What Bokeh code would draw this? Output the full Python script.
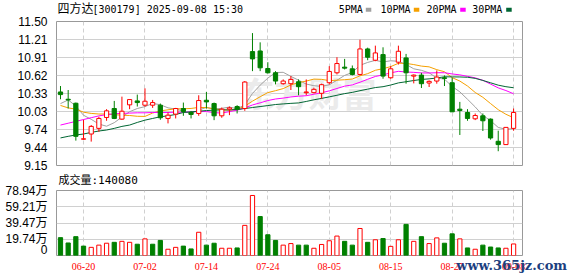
from bokeh.plotting import figure
from bokeh.layouts import column
from bokeh.models import Range1d, FixedTicker, Label, ColumnDataSource
from bokeh.embed import file_html
from bokeh.resources import INLINE
import numpy as np

# ---------------- data ----------------
dates = ["06-17", "06-18", "06-19", "06-20", "06-23", "06-24", "06-25", "06-26", "06-27", "06-30",
         "07-01", "07-02", "07-03", "07-04", "07-07", "07-08", "07-09", "07-10", "07-11", "07-14",
         "07-15", "07-16", "07-17", "07-18", "07-21", "07-22", "07-23", "07-24", "07-25", "07-28",
         "07-29", "07-30", "07-31", "08-01", "08-04", "08-05", "08-06", "08-07", "08-08", "08-11",
         "08-12", "08-13", "08-14", "08-15", "08-18", "08-19", "08-20", "08-21", "08-22", "08-25",
         "08-26", "08-27", "08-28", "08-29", "09-01", "09-02", "09-03", "09-04", "09-05", "09-08"]
label_idx = [3, 11, 19, 27, 35, 43, 51, 59]

opens = [10.35, 10.231, 10.166, 9.58, 9.664, 9.756, 9.934, 10.08, 9.907, 10.14,
         10.204, 10.134, 10.134, 10.134, 9.918, 9.988, 10.08, 10.015, 9.999, 10.215,
         10.161, 9.961, 10.069, 10.112, 10.08, 11.009, 11.019, 10.733, 10.663, 10.485,
         10.485, 10.517, 10.339, 10.339, 10.328, 10.501, 10.663, 10.755, 10.728, 10.636,
         11.052, 10.868, 10.96, 10.582, 10.836, 10.906, 10.609, 10.625, 10.496, 10.528,
         10.582, 10.501, 10.069, 10.015, 9.912, 9.961, 9.907, 9.545, 9.491, 9.756]
closes = [10.307, 10.22, 9.626, 9.585, 9.788, 9.918, 10.042, 9.918, 10.036, 10.226,
          10.177, 10.199, 10.177, 9.929, 9.972, 10.08, 10.031, 9.983, 10.21, 10.188,
          9.961, 10.069, 10.09, 10.069, 10.512, 10.89, 10.744, 10.663, 10.528, 10.528,
          10.555, 10.436, 10.35, 10.393, 10.469, 10.685, 10.814, 10.739, 10.636, 11.052,
          10.917, 10.987, 10.609, 10.728, 11.014, 10.663, 10.625, 10.485, 10.523, 10.593,
          10.571, 10.026, 10.047, 9.918, 9.966, 9.88, 9.599, 9.491, 9.772, 10.015]
highs = [10.447, 10.382, 10.177, 9.896, 9.81, 9.945, 10.069, 10.204, 10.274, 10.226,
         10.307, 10.409, 10.22, 10.161, 10.015, 10.09, 10.177, 10.04, 10.296, 10.35,
         10.177, 10.096, 10.112, 10.134, 10.528, 11.311, 11.16, 10.836, 10.69, 10.555,
         10.609, 10.555, 10.555, 10.42, 10.485, 10.771, 10.917, 10.89, 10.782, 11.203,
         11.073, 11.106, 11.079, 10.771, 11.106, 10.971, 10.636, 10.663, 10.539, 10.701,
         10.62, 10.582, 10.188, 10.069, 9.999, 9.999, 9.918, 9.718, 9.772, 10.08]
lows = [10.231, 10.08, 9.556, 9.57, 9.54, 9.70, 9.88, 9.907, 9.896, 10.069,
        10.112, 10.112, 10.09, 9.896, 9.837, 9.918, 9.961, 9.918, 9.961, 10.08,
        9.89, 9.929, 9.972, 9.999, 10.042, 10.69, 10.69, 10.652, 10.474, 10.469,
        10.382, 10.296, 10.296, 10.328, 10.24, 10.474, 10.636, 10.717, 10.62, 10.62,
        10.868, 10.852, 10.566, 10.566, 10.798, 10.485, 10.49, 10.415, 10.431, 10.485,
        10.447, 10.026, 9.648, 9.88, 9.891, 9.713, 9.572, 9.383, 9.491, 9.718]

ma5 = [10.16, 10.22, 10.12, 9.97, 9.904, 9.826, 9.791, 9.849, 9.94, 10.028,
       10.08, 10.111, 10.163, 10.142, 10.091, 10.071, 10.038, 9.999, 10.055, 10.098,
       10.075, 10.082, 10.104, 10.075, 10.14, 10.326, 10.461, 10.576, 10.667, 10.671,
       10.604, 10.542, 10.479, 10.452, 10.441, 10.467, 10.542, 10.62, 10.669, 10.785,
       10.832, 10.866, 10.84, 10.859, 10.851, 10.8, 10.728, 10.703, 10.662, 10.578,
       10.559, 10.44, 10.352, 10.231, 10.106, 9.967, 9.882, 9.771, 9.742, 9.751]
ma10 = [10.13, 10.09, 10.07, 10.02, 10.0, 9.99, 9.99, 9.98, 9.97, 9.966,
        9.953, 9.951, 10.006, 10.041, 10.059, 10.076, 10.075, 10.081, 10.098, 10.095,
        10.073, 10.06, 10.051, 10.065, 10.119, 10.2, 10.272, 10.34, 10.371, 10.405,
        10.465, 10.502, 10.528, 10.56, 10.556, 10.535, 10.542, 10.55, 10.561, 10.613,
        10.649, 10.704, 10.73, 10.764, 10.818, 10.816, 10.797, 10.772, 10.76, 10.714,
        10.68, 10.584, 10.528, 10.447, 10.342, 10.263, 10.161, 10.061, 9.986, 9.929]
ma20 = [9.81, 9.84, 9.87, 9.90, 9.93, 9.96, 9.98, 9.995, 10.0, 10.005,
        10.01, 10.01, 10.015, 10.015, 10.015, 10.02, 10.02, 10.025, 10.03, 10.03,
        10.013, 10.006, 10.029, 10.053, 10.089, 10.138, 10.173, 10.21, 10.235, 10.25,
        10.269, 10.281, 10.289, 10.313, 10.337, 10.368, 10.407, 10.445, 10.466, 10.509,
        10.557, 10.603, 10.629, 10.662, 10.687, 10.676, 10.67, 10.661, 10.66, 10.664,
        10.664, 10.644, 10.629, 10.605, 10.58, 10.54, 10.479, 10.417, 10.373, 10.321]
ma30 = [9.6, 9.626, 9.648, 9.664, 9.69, 9.713, 9.729, 9.756, 9.788, 9.81,
        9.853, 9.89, 9.918, 9.945, 9.961, 9.983, 10.015, 10.026, 10.036, 10.047,
        10.053, 10.058, 10.058, 10.064, 10.08, 10.096, 10.112, 10.128, 10.145, 10.155,
        10.164, 10.171, 10.195, 10.222, 10.245, 10.27, 10.296, 10.323, 10.343, 10.371,
        10.396, 10.422, 10.436, 10.463, 10.498, 10.517, 10.537, 10.554, 10.564, 10.578,
        10.598, 10.596, 10.595, 10.59, 10.572, 10.538, 10.5, 10.461, 10.436, 10.419]

volumes = [217000, 152000, 229000, 114000, 99000, 126000, 149000, 160000, 172000, 160000,
           137000, 202000, 137000, 183000, 76000, 99000, 114000, 80000, 282000, 126000,
           149000, 88000, 88000, 92000, 366000, 729000, 473000, 252000, 183000, 126000,
           145000, 126000, 126000, 88000, 134000, 179000, 236000, 172000, 126000, 328000,
           160000, 191000, 206000, 111000, 191000, 378000, 172000, 229000, 145000, 214000,
           149000, 263000, 202000, 92000, 76000, 126000, 103000, 92000, 88000, 140080]
vol_up = [0, 0, 0, 0, 1, 1, 1, 0, 1, 1, 0, 1, 0, 0, 1, 1, 0, 0, 1, 0,
          0, 1, 1, 0, 1, 1, 0, 0, 0, 1, 1, 0, 0, 1, 1, 1, 1, 0, 0, 1,
          0, 1, 0, 1, 1, 0, 1, 0, 1, 1, 0, 0, 1, 0, 1, 0, 0, 0, 1, 1]

price_min, price_max = 9.15, 11.50
price_tick_labels = ["9.15", "9.44", "9.74", "10.03", "10.33", "10.62", "10.91", "11.21", "11.50"]
vol_max = 789400
vol_tick_labels = ["0", "19.74万", "39.47万", "59.21万", "78.94万"]

title_name = "四方达"
title_rest = "[300179] 2025-09-08 15:30"
vol_title = "成交量:140080"
legend_names = ["5PMA", "10PMA", "20PMA", "30PMA"]
watermark_site = "www.365jz.com"
watermark_logo = "东方财富"

# ---------------- styles ----------------
W = 578
RED = "#ff0000"
GREEN = "#008000"
MA_COLORS = ["#a0a0a0", "#f5a000", "#ff00ff", "#006633"]
GRID = "#d0d0d0"
FRAME = "#999999"
AX_FONT = "Liberation Sans, Noto Sans CJK SC"
MONO = "DejaVu Sans Mono"
CJK = "Noto Sans CJK SC"
MIX = "DejaVu Sans Mono, Noto Sans CJK SC"

n = len(closes)
xs = list(range(n))
up = [1 if c >= o else 0 for o, c in zip(opens, closes)]

x0, x1 = -0.52, 60.16
frame_left, frame_right = 56, 522
x_range = Range1d(x0, x1)
px_per = (frame_right - frame_left) / (x1 - x0)


def band(height, xr):
    b = figure(width=W, height=height, x_range=xr, y_range=Range1d(0, height),
               x_axis_type=None, y_axis_type=None, min_border=0,
               toolbar_location=None, output_backend="svg")
    b.outline_line_color = None
    b.frame_align = False
    return b


def style(p):
    for ax in p.yaxis:
        ax.axis_line_color = None
        ax.major_tick_line_color = None
        ax.minor_tick_line_color = None
        ax.major_label_standoff = 3
        ax.major_label_text_font = AX_FONT
        ax.major_label_text_font_size = "12px"
        ax.major_label_text_color = "#000000"
    p.ygrid.grid_line_color = GRID
    p.ygrid.grid_line_width = 1
    p.xgrid.grid_line_color = GRID
    p.xgrid.grid_line_dash = "4 3"
    p.xgrid.grid_line_width = 1
    p.outline_line_color = FRAME
    p.outline_line_width = 1


# ---------------- header band (title + legend) ----------------
H_HDR = 15
hdr = band(H_HDR, Range1d(0, W))
hdr.add_layout(Label(x=57, y=6.5, text=title_name, text_font=MIX, text_font_size="12px",
                     text_color="#000000", text_baseline="middle"))
hdr.add_layout(Label(x=92, y=6.5, text=title_rest, text_font=MONO, text_font_size="10px",
                     text_color="#000000", text_baseline="middle"))
legend_x = [338.3, 380.0, 426.0, 471.7]
box_x = [365.3, 413.3, 459.7, 505.7]
for name, lx in zip(legend_names, legend_x):
    hdr.add_layout(Label(x=lx, y=6.5, text=name, text_font=MONO, text_font_size="10px",
                         text_color="#000000", text_baseline="middle"))
hdr.quad(left=box_x, right=[b + 5.5 for b in box_x], bottom=3.7, top=7.7,
         fill_color=MA_COLORS, line_color=None)

# ---------------- price panel ----------------
p1 = figure(width=W, height=157, x_range=x_range, y_range=Range1d(price_min, price_max),
            min_border_left=frame_left, min_border_right=W - frame_right,
            min_border_top=6, min_border_bottom=7,
            toolbar_location=None, output_backend="svg")
p1.xaxis.visible = False
price_ticks = [float(t) for t in np.linspace(price_min, price_max, len(price_tick_labels))]
p1.yaxis.ticker = FixedTicker(ticks=price_ticks)
p1.yaxis.major_label_overrides = {t: l for t, l in zip(price_ticks, price_tick_labels)}
p1.ygrid.ticker = FixedTicker(ticks=price_ticks)
p1.xgrid.ticker = FixedTicker(ticks=label_idx)
style(p1)

wm = Label(x=184, y=73, x_units="screen", y_units="screen", text=watermark_logo,
           text_font=CJK, text_font_size="34px", text_font_style="bold",
           text_color="#ebebeb", text_baseline="middle")
wm.level = "underlay"
p1.add_layout(wm)

for vals, col in zip([ma5, ma10, ma20, ma30], MA_COLORS):
    p1.line(xs, vals, line_color=col, line_width=1)


def subset(flag):
    idx = [i for i in xs if up[i] == flag]
    return ColumnDataSource(dict(x=idx, o=[opens[i] for i in idx], c=[closes[i] for i in idx],
                                 h=[highs[i] for i in idx], l=[lows[i] for i in idx]))


src_up, src_dn = subset(1), subset(0)
p1.segment(x0="x", y0="h", x1="x", y1="l", source=src_up, line_color=RED, line_width=1)
p1.vbar(x="x", bottom="o", top="c", width=0.55, source=src_up,
        fill_color="white", line_color=RED, line_width=1)
p1.segment(x0="x", y0="h", x1="x", y1="l", source=src_dn, line_color=GREEN, line_width=1)
p1.vbar(x="x", bottom="c", top="o", width=0.55, source=src_dn,
        fill_color=GREEN, line_color=GREEN, line_width=1)

# ---------------- volume panel ----------------
p2 = figure(width=W, height=84, x_range=x_range, y_range=Range1d(0, vol_max),
            min_border_left=frame_left, min_border_right=W - frame_right,
            min_border_top=14, min_border_bottom=1,
            toolbar_location=None, output_backend="svg")
p2.title.text = vol_title
p2.title.align = "left"
p2.title.vertical_align = "top"
p2.title.offset = 2
p2.title.standoff = 3
p2.title.text_font = MIX
p2.title.text_font_size = "11px"
p2.title.text_font_style = "normal"
p2.title.text_color = "#000000"
p2.xaxis.visible = False
vol_ticks = [float(t) for t in np.linspace(0, vol_max, len(vol_tick_labels))]
p2.yaxis.ticker = FixedTicker(ticks=vol_ticks)
p2.yaxis.major_label_overrides = {t: l for t, l in zip(vol_ticks, vol_tick_labels)}
p2.ygrid.ticker = FixedTicker(ticks=vol_ticks)
p2.xgrid.ticker = FixedTicker(ticks=label_idx)
style(p2)

vsrc_up = ColumnDataSource(dict(x=[i for i in xs if vol_up[i]],
                                v=[volumes[i] for i in xs if vol_up[i]]))
vsrc_dn = ColumnDataSource(dict(x=[i for i in xs if not vol_up[i]],
                                v=[volumes[i] for i in xs if not vol_up[i]]))
p2.vbar(x="x", bottom=0, top="v", width=0.55, source=vsrc_up,
        fill_color="white", line_color=RED, line_width=1)
p2.vbar(x="x", bottom=0, top="v", width=0.55, source=vsrc_dn,
        fill_color=GREEN, line_color=GREEN, line_width=1)

# ---------------- footer band (date labels + site watermark) ----------------
H_FT = 20
ext_l = frame_left / px_per
ext_r = (W - frame_right) / px_per
ft = band(H_FT, Range1d(x0 - ext_l, x1 + ext_r))
ft.text(x=label_idx, y=[10] * len(label_idx), text=[dates[i] for i in label_idx],
        text_font=MONO, text_font_size="10px", text_color=RED,
        text_align="center", text_baseline="middle")
ft.add_layout(Label(x=455.7, y=11.5, x_units="screen", y_units="screen", text=watermark_site,
                    text_font="DejaVu Serif", text_font_size="13px", text_font_style="bold",
                    text_color="#1c3f7f", text_baseline="alphabetic"))

layout = column(hdr, p1, p2, ft, spacing=0)
open("out.html", "w").write(file_html(layout, INLINE))
